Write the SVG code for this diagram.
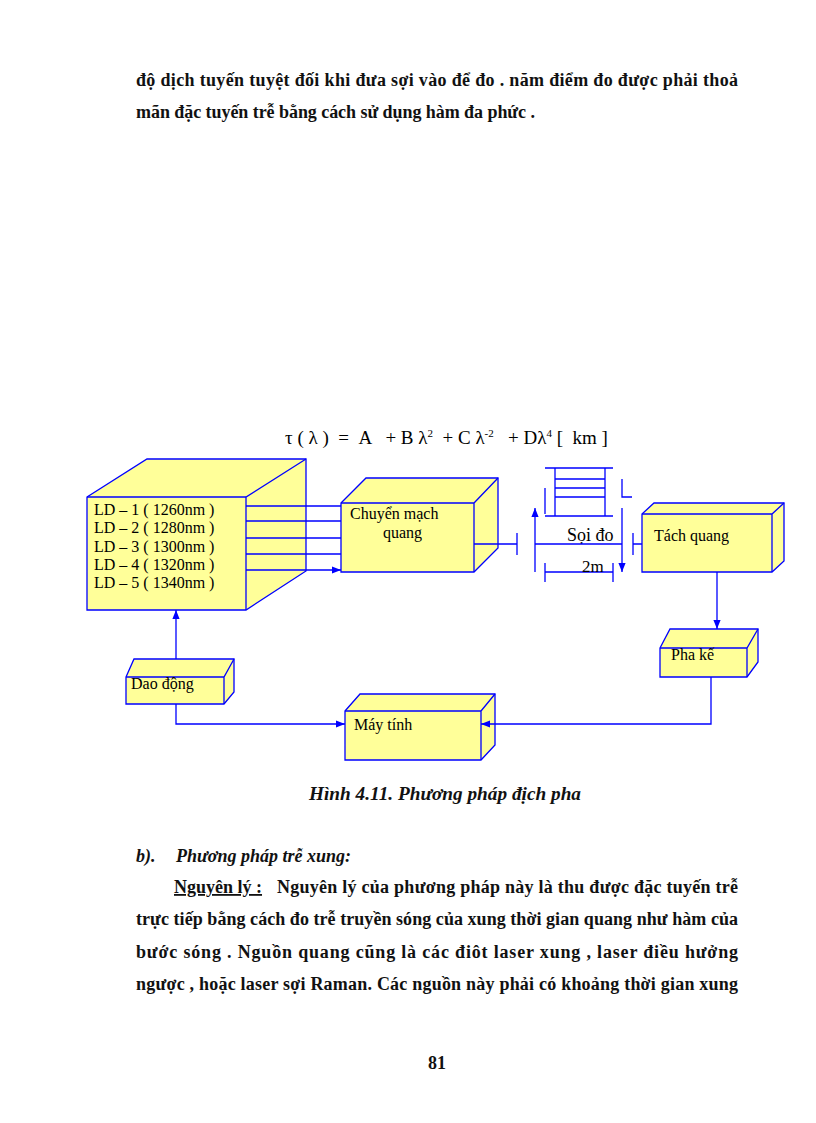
<svg xmlns="http://www.w3.org/2000/svg" width="816" height="1123" viewBox="0 0 816 1123">
<style>
.t{font-family:"Liberation Serif",serif;font-size:18px;font-weight:bold;fill:#111}
.n{font-family:"Liberation Serif",serif;font-size:16px;fill:#000}
.b{fill:#ffff99;stroke:#0000ff;stroke-width:1.3}
.l{stroke:#0000ff;stroke-width:1.3;fill:none}
</style>
<defs><marker id="a" viewBox="0 0 10 10" refX="10" refY="5" markerWidth="7" markerHeight="7" orient="auto-start-reverse"><path d="M0,1 L10,5 L0,9 z" fill="#0000ff"/></marker></defs>
<rect width="816" height="1123" fill="#fff"/>
<text class="t" x="136" y="86" textLength="602" lengthAdjust="spacing">độ dịch tuyến tuyệt đối khi đưa sợi vào để đo . năm điểm đo được phải thoả</text>
<text class="t" x="136" y="118" textLength="399" lengthAdjust="spacing">mãn đặc tuyến trễ bằng cách sử dụng hàm đa phức .</text>
<text x="285" y="444" font-family="Liberation Serif,serif" font-size="19" xml:space="preserve">τ ( λ )  =  A   + B λ<tspan font-size="11" dy="-7">2</tspan><tspan dy="7">  + C λ</tspan><tspan font-size="11" dy="-7">-2</tspan><tspan dy="7">   + Dλ</tspan><tspan font-size="11" dy="-7">4</tspan><tspan dy="7"> [  km ]</tspan></text>
<g id="ld"><path class="b" d="M87,497 L147,459 L306,459 L306,571 L246,610 L87,610 Z"/><path class="l" d="M87,497 L246,497 L306,459 M246,497 L246,610"/>
<text class="n" x="94" y="515">LD – 1 ( 1260nm )</text><text class="n" x="94" y="533">LD – 2 ( 1280nm )</text><text class="n" x="94" y="552">LD – 3 ( 1300nm )</text><text class="n" x="94" y="570">LD – 4 ( 1320nm )</text><text class="n" x="94" y="588">LD – 5 ( 1340nm )</text></g>
<g id="switch"><path class="b" d="M341,503 L366,478 L498,478 L498,548 L474,572 L341,572 Z"/><path class="l" d="M341,503 L474,503 L498,478 M474,503 L474,572"/><text class="n" x="350" y="519">Chuyển  mạch</text><text class="n" x="383" y="538">quang</text></g>
<g id="tach"><path class="b" d="M642,514 L654,503 L784,503 L784,561 L772,572 L642,572 Z"/><path class="l" d="M642,514 L772,514 L784,503 M772,514 L772,572"/><text class="n" x="654" y="541">Tách quang</text></g>
<g id="pha"><path class="b" d="M660,648 L670,629 L758,629 L758,662 L747,677 L660,677 Z"/><path class="l" d="M660,648 L747,648 L758,629 M747,648 L747,677"/><text class="n" x="671" y="660">Pha kế</text></g>
<g id="dao"><path class="b" d="M126,677 L134,659 L234,659 L234,692 L224,704 L126,704 Z"/><path class="l" d="M126,677 L224,677 L234,659 M224,677 L224,704"/><text class="n" x="131" y="689">Dao động</text></g>
<g id="may"><path class="b" d="M345,711 L360,694 L495,694 L495,745 L481,760 L345,760 Z"/><path class="l" d="M345,711 L481,711 L495,694 M481,711 L481,760"/><text class="n" x="354" y="730">Máy tính</text></g>
<g id="fiber" class="l"><path d="M545,468 L613,468 M555,468 L555,516 M605,468 L605,516 M555,479 L605,479 M555,488 L605,488 M555,497 L605,497 M545,516 L613,516 M545,488 L545,514 M622,479 L622,497 L632,497 M545,563 L545,582 M545,572 L613,572 M613,563 L613,582"/>
<text x="567" y="541" font-family="Liberation Serif,serif" font-size="18" fill="#000" stroke="none">Sọi đo</text><text x="582" y="572" font-family="Liberation Serif,serif" font-size="17" fill="#000" stroke="none">2m</text></g>
<g id="connectors" class="l">
<path d="M246,506 L341,506 M246,521 L341,521 M246,538 L341,538 M246,554 L341,554 M246,570 L341,570" marker-end="url(#a)"/>
<path d="M474,544 L517,544 M517,533 L517,555 M535,544 L622,544 M633,533 L633,555 M633,544 L642,544"/>
<path d="M535,508 L535,572 M622,508 L622,572" marker-start="url(#a)" marker-end="url(#a)"/>
<path d="M717,572 L717,629" marker-end="url(#a)"/>
<path d="M711,677 L711,724 L481,724" marker-end="url(#a)"/>
<path d="M176,704 L176,724 L345,724" marker-end="url(#a)"/>
<path d="M176,659 L176,610" marker-end="url(#a)"/>
</g>
<text x="309" y="800" font-family="Liberation Serif,serif" font-size="18" font-weight="bold" font-style="italic" fill="#111" textLength="272" lengthAdjust="spacingAndGlyphs">Hình 4.11. Phương pháp địch pha</text>
<text x="136" y="862" font-family="Liberation Serif,serif" font-size="18" font-weight="bold" font-style="italic" fill="#111">b).</text>
<text x="176" y="862" font-family="Liberation Serif,serif" font-size="18" font-weight="bold" font-style="italic" fill="#111">Phương pháp trễ xung:</text>
<text class="t" x="174" y="893" text-decoration="underline">Nguyên lý :</text>
<text class="t" x="277" y="893" textLength="461" lengthAdjust="spacing">Nguyên lý của phương pháp này là thu được đặc tuyến trễ</text>
<text class="t" x="136" y="925" textLength="602" lengthAdjust="spacing">trực tiếp bằng cách đo trễ truyền sóng của xung thời gian quang như hàm của</text>
<text class="t" x="136" y="958" textLength="602" lengthAdjust="spacing">bước sóng . Nguồn quang cũng là các điôt laser xung , laser điều hưởng</text>
<text class="t" x="136" y="990" textLength="602" lengthAdjust="spacing">ngược , hoặc laser sợi Raman. Các nguồn này phải có khoảng thời gian xung</text>
<text class="t" x="428" y="1069">81</text>
</svg>
